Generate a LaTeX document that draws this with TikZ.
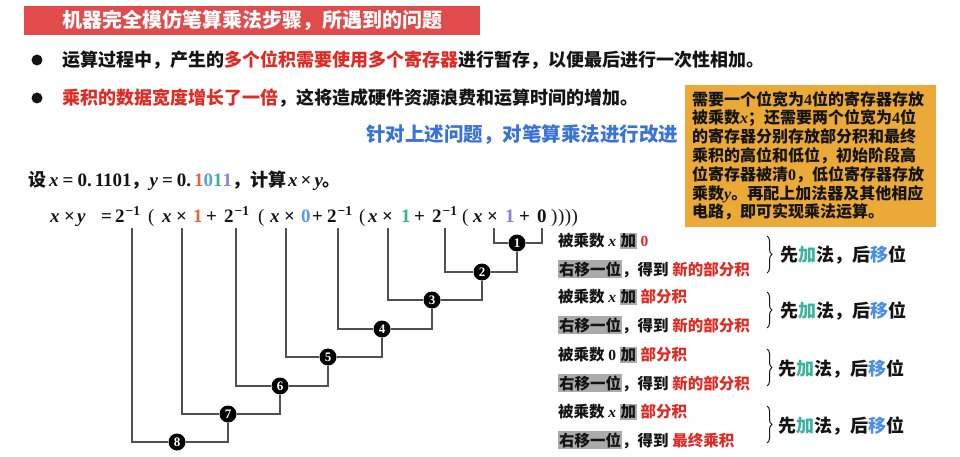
\documentclass[tikz,border=0pt]{standalone}
\usepackage[no-math]{fontspec}
\setmainfont{Noto Sans CJK SC}
\newfontfamily\tnr{Liberation Serif}
\usetikzlibrary{decorations.pathreplacing}
\definecolor{bandred}{HTML}{E24B4B}
\definecolor{txtred}{HTML}{E02A24}
\definecolor{subblue}{HTML}{3A72D8}
\definecolor{boxorange}{HTML}{EBA937}
\definecolor{dorange}{HTML}{E0683A}
\definecolor{dblue}{HTML}{5A9CE8}
\definecolor{dgreen}{HTML}{3DB38C}
\definecolor{dpurple}{HTML}{8A80E2}
\definecolor{jiateal}{HTML}{3AB3A0}
\definecolor{yiblue}{HTML}{4A8FE6}
\definecolor{hlgray}{HTML}{ABABAB}
\definecolor{linegray}{HTML}{505050}
\definecolor{ink}{HTML}{141414}
\newcommand{\hlbox}[1]{{\setlength{\fboxsep}{1pt}\colorbox{hlgray}{#1}}}
\newcommand{\vx}{{\itshape x}}
\newcommand{\vy}{{\itshape y}}
\newcommand{\two}{2\hspace{1pt}\raisebox{6pt}{\fontsize{13.5}{14}\selectfont −1}}
\newcommand{\lp}{{\mdseries (}}
\newcommand{\rps}{{\mdseries \hspace{1pt})\hspace{0.5pt})\hspace{0.5pt})\hspace{0.5pt})}}
\begin{document}
\begin{tikzpicture}[x=1pt,y=-1pt,
  every node/.style={inner sep=0pt, text=ink},
  bul/.style={circle, fill=ink, minimum size=11pt},
  btxt/.style={anchor=west, font=\fontsize{18}{20}\selectfont\bfseries},
  eqt/.style={anchor=base west, font=\tnr\fontsize{19}{20}\selectfont\bfseries},
  num/.style={circle, fill=black, minimum size=17pt, text=white, font=\fontsize{13}{13}\selectfont\tnr\bfseries},
  wire/.style={draw=linegray, line width=1.2pt},
  rtxt/.style={anchor=west, font=\fontsize{15.5}{18}\selectfont\bfseries},
  brc/.style={decorate, decoration={brace, amplitude=5pt}, draw=ink, line width=1pt},
  conc/.style={anchor=west, font=\fontsize{18}{20}\selectfont\bfseries},
]
\fill[white] (0,0) rectangle (960,457);
\path[use as bounding box] (0,0) rectangle (960,457);

% title band
\fill[bandred] (24,6) rectangle (480,35);
\node[anchor=west, text=white, font=\fontsize{20}{22}\selectfont\bfseries] (title) at (62,20.5) {机器完全模仿笔算乘法步骤，所遇到的问题};

% bullets
\node[bul] (d1) at (37,60) {};
\node[btxt] (l1) at (62,60) {运算过程中，产生的\textcolor{txtred}{多个位积需要使用多个寄存器}进行暂存，以便最后进行一次性相加。};
\node[bul] (d2) at (37,98) {};
\node[btxt] (l2) at (62,98) {\textcolor{txtred}{乘积的数据宽度增长了一倍}，这将造成硬件资源浪费和运算时间的增加。};

% orange box
\node[fill=boxorange, minimum width=251pt, minimum height=142pt, anchor=north west] (obox) at (685,85) {};
\node[anchor=north west, align=left, font=\fontsize{16}{18.8}\selectfont\bfseries] (otxt) at (692,91) {需要一个位宽为{\tnr 4}位的寄存器存放\\被乘数{\tnr\itshape x}；还需要两个位宽为{\tnr 4}位\\的寄存器分别存放部分积和最终\\乘积的高位和低位，初始阶段高\\位寄存器被清{\tnr 0}，低位寄存器存放\\乘数{\tnr\itshape y}。再配上加法器及其他相应\\电路，即可实现乘法运算。};

% subtitle
\node[font=\fontsize{19.5}{21}\selectfont\bfseries, text=subblue] (sub) at (522,135) {针对上述问题，对笔算乘法进行改进};

% given
\node[anchor=west, font=\fontsize{18}{20}\selectfont\bfseries] (given) at (28,181) {设\hspace{3pt}{\tnr\fontsize{19}{20}\selectfont\vx\hspace{4pt}=\hspace{4pt}0.\hspace{3pt}1101}，{\tnr\fontsize{19}{20}\selectfont\vy\hspace{4pt}=\hspace{4pt}0.\hspace{3pt}\textcolor{dorange}{1}\textcolor{dblue}{0}\textcolor{dgreen}{1}\textcolor{dpurple}{1}}，计算\hspace{2pt}{\tnr\fontsize{19}{20}\selectfont\vx\hspace{3pt}×\hspace{3pt}\vy}。};

% equation tokens
\foreach \n/\px/\tok in {0/50/\vx, 1/64/×, 2/77/\vy, 3/101/=, 4/115/\two, 5/148/\lp,
  6/162/\vx, 7/176/×, 8/193/\textcolor{dorange}{1}, 9/206/+, 10/224/\two, 11/258/\lp,
  12/270/\vx, 13/284/×, 14/301/\textcolor{dblue}{0}, 15/312/+, 16/327/\two, 17/359/\lp,
  18/368/\vx, 19/382/×, 20/401/\textcolor{dgreen}{1}, 21/414/+, 22/432/\two, 23/462/\lp,
  24/473/\vx, 25/487/×, 26/505/\textcolor{dpurple}{1}, 27/519/+, 28/537/0, 29/550/\rps}
  \node[eqt] (e\n) at (\px,222) {\tok};

% tops of hanging lines
\coordinate (tb) at (542,228);
\coordinate (ta1) at (494,228);
\coordinate (ta2) at (445,228);
\coordinate (ta3) at (388,228);
\coordinate (ta4) at (338,228);
\coordinate (ta5) at (286,228);
\coordinate (ta6) at (236,228);
\coordinate (ta7) at (182,228);
\coordinate (ta8) at (132,228);

% numbered circles
\node[num] (c1) at (517,243) {1};
\node[num] (c2) at (482,272) {2};
\node[num] (c3) at (432,300) {3};
\node[num] (c4) at (382,329) {4};
\node[num] (c5) at (328,357) {5};
\node[num] (c6) at (280,386) {6};
\node[num] (c7) at (228,414) {7};
\node[num] (c8) at (177,442) {8};

\draw[wire] (ta1) |- (c1); \draw[wire] (c1) -| (tb);
\draw[wire] (ta2) |- (c2); \draw[wire] (c2) -| (c1);
\draw[wire] (ta3) |- (c3); \draw[wire] (c3) -| (c2);
\draw[wire] (ta4) |- (c4); \draw[wire] (c4) -| (c3);
\draw[wire] (ta5) |- (c5); \draw[wire] (c5) -| (c4);
\draw[wire] (ta6) |- (c6); \draw[wire] (c6) -| (c5);
\draw[wire] (ta7) |- (c7); \draw[wire] (c7) -| (c6);
\draw[wire] (ta8) |- (c8); \draw[wire] (c8) -| (c7);

% right column
\node[rtxt] (g1a) at (558,241) {被乘数 {\tnr\itshape x} \hlbox{加} \textcolor{txtred}{\tnr 0}};
\node[rtxt] (g1b) at (558,269) {\hlbox{右移一位}，得到 \textcolor{txtred}{新的部分积}};
\node[rtxt] (g2a) at (558,297) {被乘数 {\tnr\itshape x} \hlbox{加} \textcolor{txtred}{部分积}};
\node[rtxt] (g2b) at (558,325) {\hlbox{右移一位}，得到 \textcolor{txtred}{新的部分积}};
\node[rtxt] (g3a) at (558,355) {被乘数 {\tnr 0} \hlbox{加} \textcolor{txtred}{部分积}};
\node[rtxt] (g3b) at (558,383) {\hlbox{右移一位}，得到 \textcolor{txtred}{新的部分积}};
\node[rtxt] (g4a) at (558,412) {被乘数 {\tnr\itshape x} \hlbox{加} \textcolor{txtred}{部分积}};
\node[rtxt] (g4b) at (558,440) {\hlbox{右移一位}，得到 \textcolor{txtred}{最终乘积}};

\draw[brc] (767,236) -- (767,273);
\draw[brc] (767,292) -- (767,328);
\draw[brc] (767,349) -- (767,386);
\draw[brc] (767,406) -- (767,443);

\node[conc] (k1) at (780,255) {先\textcolor{jiateal}{加}法，后\textcolor{yiblue}{移}位};
\node[conc] (k2) at (780,311) {先\textcolor{jiateal}{加}法，后\textcolor{yiblue}{移}位};
\node[conc] (k3) at (778,369) {先\textcolor{jiateal}{加}法，后\textcolor{yiblue}{移}位};
\node[conc] (k4) at (778,426) {先\textcolor{jiateal}{加}法，后\textcolor{yiblue}{移}位};
\end{tikzpicture}
\end{document}
